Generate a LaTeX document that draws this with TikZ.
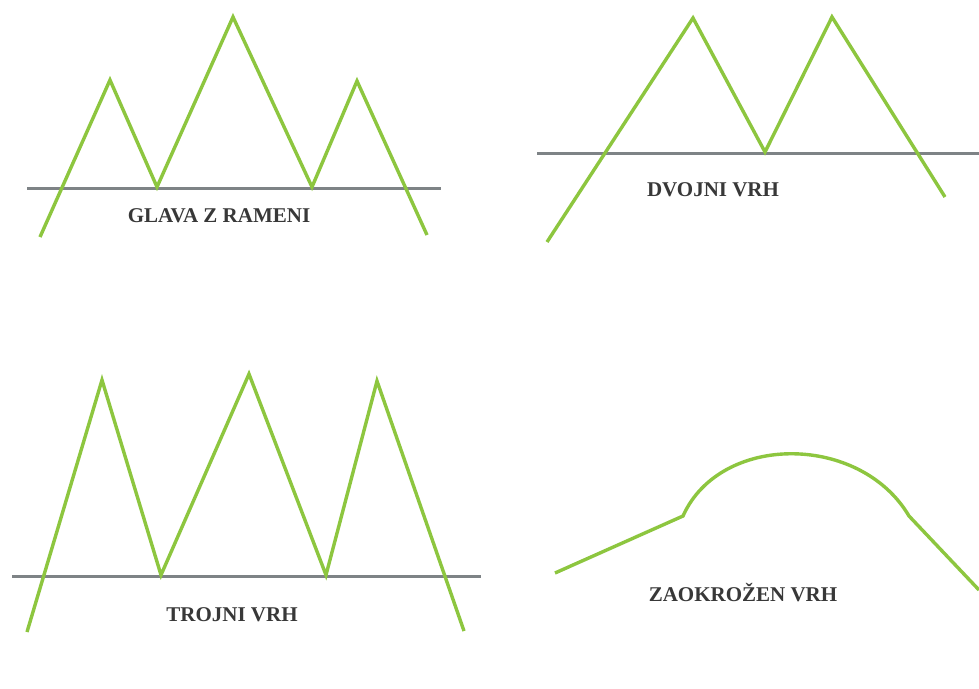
\documentclass[tikz,border=0pt]{standalone}
\usepackage{fontspec}
\setmainfont{Liberation Serif}
\usetikzlibrary{positioning}

\definecolor{trendgreen}{HTML}{8DC63F}
\definecolor{neckgray}{HTML}{7E8386}
\definecolor{labelgray}{HTML}{383838}

\begin{document}
\begin{tikzpicture}[
    x=1pt, y=-1pt,
    price/.style={
        draw=trendgreen,
        line width=3.4pt,
        line join=miter
    },
    neck/.style={
        draw=neckgray,
        line width=3pt
    },
    caption/.style={
        text=labelgray,
        font=\bfseries\fontsize{21}{24}\selectfont
    }
]
\useasboundingbox[fill=white] (0,0) rectangle (979,688);

% head and shoulders
\draw[neck] (27,188) -- (441,188);
\draw[price] (40,237) -- (110,80) -- (157,187) -- (233,17) -- (312,187) -- (357,81) -- (427,235);
\node[caption] (headshoulders) at (219,216) {GLAVA Z RAMENI};

% double top
\draw[neck] (537,153) -- (979,153);
\draw[price] (547,242) -- (693,18) -- (765,152) -- (832,17) -- (945,197);
\node[caption] (doubletop) at (713,190) {DVOJNI VRH};

% triple top
\draw[neck] (12,576) -- (481,576);
\draw[price] (27,632) -- (102,380) -- (161,575) -- (249,374) -- (326,575) -- (377,381) -- (464,631);
\node[caption] (tripletop) at (232,615) {TROJNI VRH};

% rounded top
\draw[price] (555,573) -- (683,516) .. controls (720,433) and (860,433) .. (909,516) -- (979,590);
\node[caption] (roundtop) at (743,593) {ZAOKROŽEN VRH};

\end{tikzpicture}
\end{document}
